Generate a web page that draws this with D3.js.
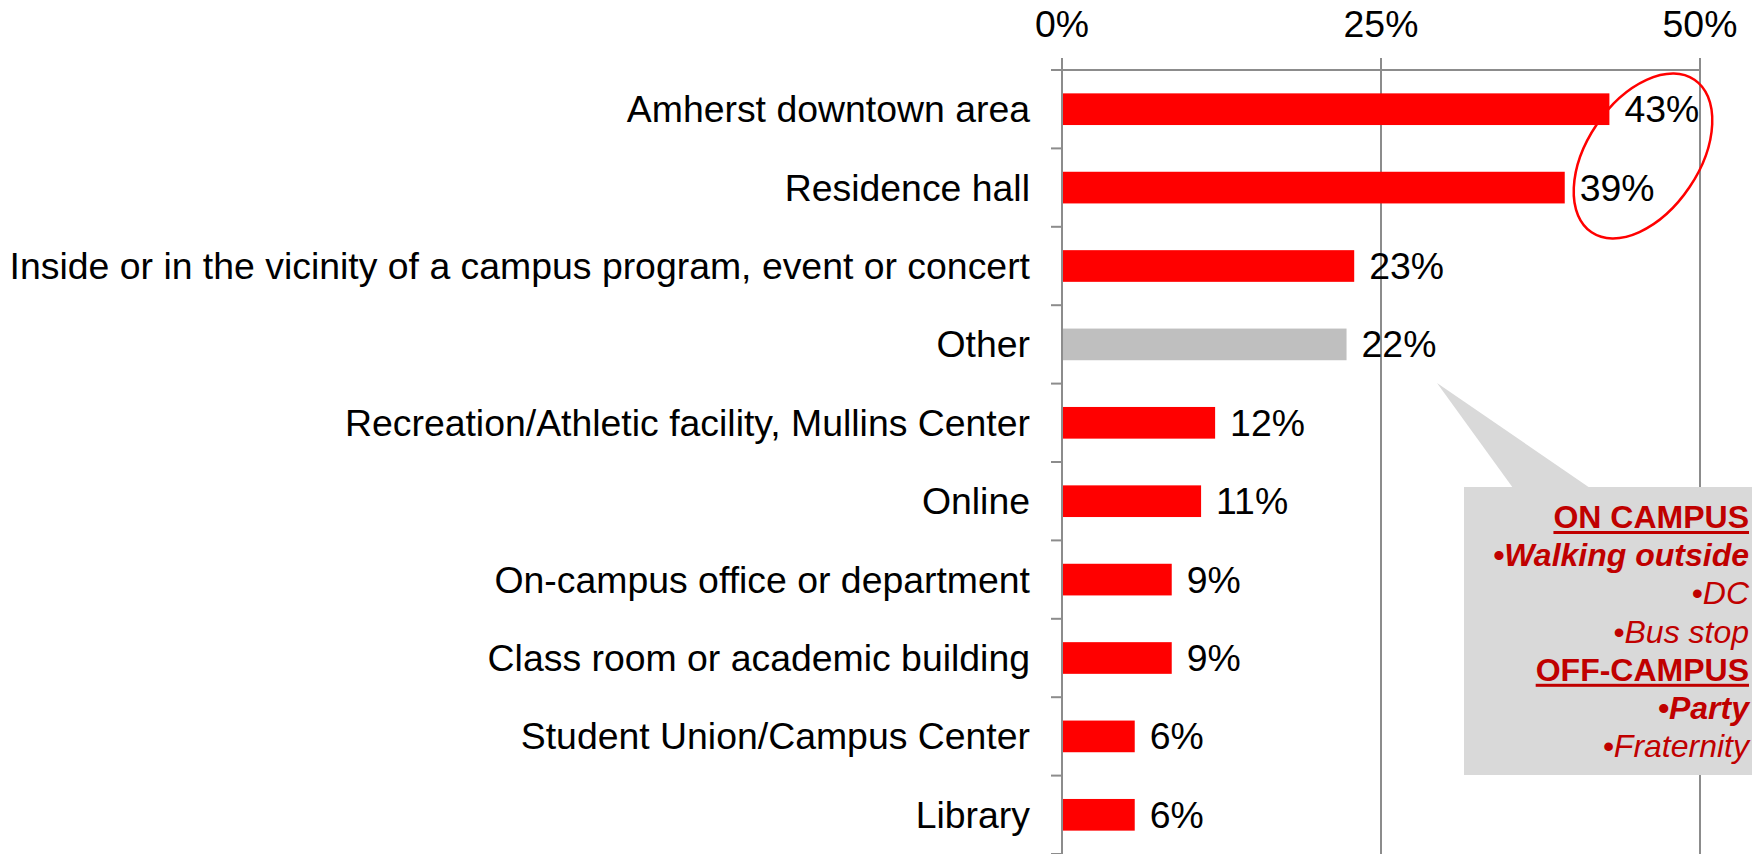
<!DOCTYPE html>
<html>
<head>
<meta charset="utf-8">
<script src="https://cdn.jsdelivr.net/npm/d3@7"></script>
<style>
  html, body { margin: 0; padding: 0; background: #fff; }
  svg { display: block; font-family: "Liberation Sans", Arial, sans-serif; }
</style>
</head>
<body>
<svg id="chart" width="1752" height="854"></svg>
<script>
// ---- data ----
const categories = [
  "Amherst downtown area",
  "Residence hall",
  "Inside or in the vicinity of a campus program, event or concert",
  "Other",
  "Recreation/Athletic facility, Mullins Center",
  "Online",
  "On-campus office or department",
  "Class room or academic building",
  "Student Union/Campus Center",
  "Library"
];
const values = [42.9, 39.4, 22.9, 22.3, 12.0, 10.9, 8.6, 8.6, 5.7, 5.7];
const tickValues = [0, 25, 50];
const highlighted = ["Other"];
const calloutText = ["ON CAMPUS", "•Walking outside", "•DC", "•Bus stop", "OFF-CAMPUS", "•Party", "•Fraternity"];
const calloutKind = ["head", "bold", "plain", "plain", "head", "bold", "plain"];

// ---- layout ----
const svg = d3.select("#chart");
const margin = { top: 70, left: 1062, right: 52, bottom: 0 };
const W = 1752, H = 854;

const x = d3.scaleLinear().domain([0, 50]).range([margin.left, 1700]);
const y = d3.scaleBand().domain(categories).range([margin.top, H]).paddingInner(0.596).paddingOuter(0.298);

const gridColor = "#8c8c8c";
const labelSize = 37.4;

// vertical gridlines
svg.append("g").selectAll("line").data(tickValues).join("line")
  .attr("x1", d => x(d)).attr("x2", d => x(d))
  .attr("y1", 58).attr("y2", H)
  .attr("stroke", gridColor).attr("stroke-width", 2);

// top axis line
svg.append("line")
  .attr("x1", 1051).attr("x2", x(50) + 1)
  .attr("y1", margin.top).attr("y2", margin.top)
  .attr("stroke", gridColor).attr("stroke-width", 2);

// category tick marks (band boundaries)
const step = y.step();
const boundaries = d3.range(categories.length + 1).map(i => margin.top + i * step);
svg.append("g").selectAll("line").data(boundaries.slice(1)).join("line")
  .attr("x1", 1051).attr("x2", x(0))
  .attr("y1", d => d).attr("y2", d => d)
  .attr("stroke", gridColor).attr("stroke-width", 2);

// top tick labels
svg.append("g").selectAll("text").data(tickValues).join("text")
  .attr("x", d => x(d)).attr("y", 37)
  .attr("text-anchor", "middle")
  .attr("font-size", labelSize).attr("fill", "#000")
  .text(d => d + "%");

// bars
svg.append("g").selectAll("rect").data(categories).join("rect")
  .attr("x", x(0) + 1)
  .attr("y", d => y(d))
  .attr("width", (d, i) => x(values[i]) - x(0) - 1)
  .attr("height", y.bandwidth())
  .attr("fill", d => highlighted.includes(d) ? "#bfbfbf" : "#ff0000");

// category labels
svg.append("g").selectAll("text").data(categories).join("text")
  .attr("x", 1030)
  .attr("y", d => y(d) + y.bandwidth() / 2)
  .attr("dy", "0.35em")
  .attr("text-anchor", "end")
  .attr("font-size", labelSize).attr("fill", "#000")
  .text(d => d);

// value labels
svg.append("g").selectAll("text").data(categories).join("text")
  .attr("x", (d, i) => x(values[i]) + 15)
  .attr("y", d => y(d) + y.bandwidth() / 2)
  .attr("dy", "0.35em")
  .attr("font-size", labelSize).attr("fill", "#000")
  .text((d, i) => Math.round(values[i]) + "%");

// highlight ellipse around top two labels
svg.append("ellipse")
  .attr("cx", 0).attr("cy", 0).attr("rx", 56).attr("ry", 92)
  .attr("transform", "translate(1643,156) rotate(34)")
  .attr("fill", "none").attr("stroke", "#ff0000").attr("stroke-width", 2.5);

// callout
const boxFill = "#d9d9d9";
svg.append("path")
  .attr("d", "M1437,383 L1513,488 L1590,488 Z")
  .attr("fill", boxFill);
svg.append("rect")
  .attr("x", 1464).attr("y", 487).attr("width", W - 1464).attr("height", 775 - 487)
  .attr("fill", boxFill);

const calloutRed = "#c00000";
const baselines = calloutText.map((_, i) => 528 + i * 38.2);
const tg = svg.append("g");
calloutText.forEach((t, i) => {
  const k = calloutKind[i];
  const txt = tg.append("text")
    .attr("x", 1749).attr("y", baselines[i])
    .attr("text-anchor", "end")
    .attr("font-size", 32)
    .attr("font-weight", k === "plain" ? "normal" : "bold")
    .attr("font-style", k === "head" ? "normal" : "italic")
    .attr("fill", calloutRed)
    .text(t);
  if (k === "head") {
    const w = txt.node().getComputedTextLength();
    tg.append("rect")
      .attr("x", 1749 - w).attr("y", baselines[i] + 3)
      .attr("width", w).attr("height", 3)
      .attr("fill", calloutRed);
  }
});
</script>
</body>
</html>
